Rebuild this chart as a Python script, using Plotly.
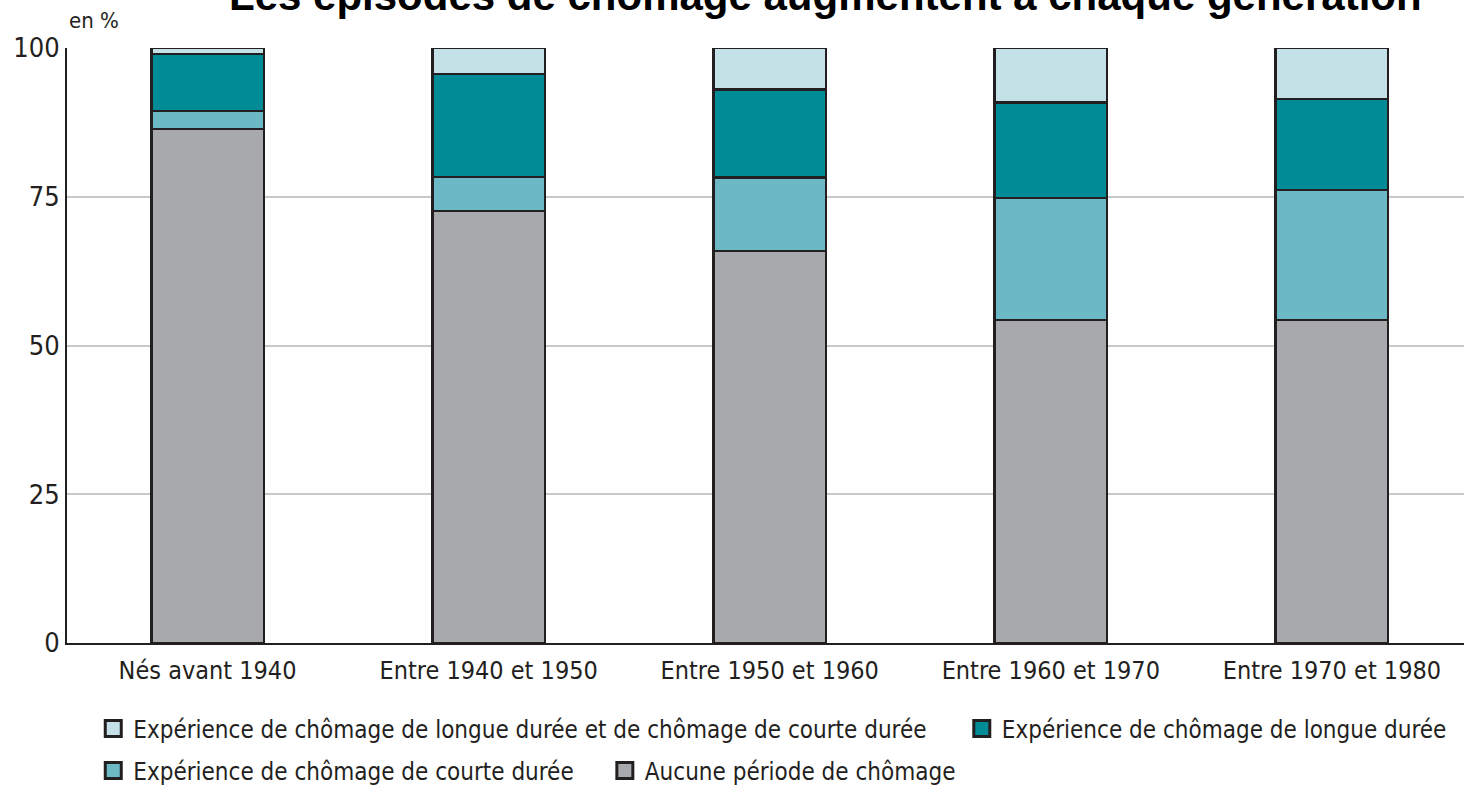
import plotly.graph_objects as go

categories = ["Nés avant 1940", "Entre 1940 et 1950", "Entre 1950 et 1960",
              "Entre 1960 et 1970", "Entre 1970 et 1980"]
aucune = [86.4, 72.6, 65.9, 54.3, 54.3]
courte = [3.0, 5.7, 12.3, 20.5, 21.8]
longue = [9.6, 17.3, 14.8, 16.0, 15.3]
les_deux = [1.0, 4.4, 7.0, 9.2, 8.6]

names = {
    "les_deux": "Expérience de chômage de longue durée et de chômage de courte durée",
    "longue": "Expérience de chômage de longue durée",
    "courte": "Expérience de chômage de courte durée",
    "aucune": "Aucune période de chômage",
}
colors = {
    "aucune": "#a8a9ac",
    "courte": "#6cb8c4",
    "longue": "#008b96",
    "les_deux": "#c4e1e8",
}
series = {"aucune": aucune, "courte": courte, "longue": longue, "les_deux": les_deux}

FONT = "Liberation Sans Narrow, Arial Narrow, DejaVu Sans Condensed, Roboto Condensed, Liberation Sans, sans-serif"
EDGE = "#231f20"

fig = go.Figure()
for key in ["aucune", "courte", "longue", "les_deux"]:
    fig.add_trace(go.Bar(
        x=categories, y=series[key], name=names[key],
        marker=dict(color=colors[key], line=dict(color=EDGE, width=2.5)),
        width=0.4, showlegend=False,
    ))

# legend entries, each in its own legend box placed like the reference
legend_ids = {"les_deux": "legend", "longue": "legend2", "courte": "legend3", "aucune": "legend4"}
for key in ["les_deux", "longue", "courte", "aucune"]:
    fig.add_trace(go.Scatter(
        x=[None], y=[None], mode="markers", name=names[key],
        marker=dict(symbol="square", size=22, color=colors[key],
                    line=dict(color=EDGE, width=3)),
        showlegend=True, legend=legend_ids[key],
    ))

def leg(x, y):
    return dict(orientation="h", x=x, xanchor="left", y=y, yanchor="middle",
                font=dict(family=FONT, size=24, color="#231f20"),
                itemsizing="trace", itemwidth=30, bgcolor="rgba(0,0,0,0)")

fig.update_layout(
    barmode="stack",
    width=1464, height=793,
    margin=dict(l=67, r=0, t=48, b=150, autoexpand=False),
    paper_bgcolor="white", plot_bgcolor="white",
    font=dict(family=FONT, size=24, color="#231f20"),
    showlegend=True,
    legend=leg(0.0188, -0.1445),
    legend2=leg(0.6405, -0.1445),
    legend3=leg(0.0188, -0.2151),
    legend4=leg(0.3850, -0.2151),
    xaxis=dict(range=[-0.5, 4.47], showline=True, linecolor="#231f20", linewidth=2,
               ticks="", showgrid=False, tickfont=dict(size=25), ticklabelstandoff=4),
    yaxis=dict(range=[0, 100], tickvals=[0, 25, 50, 75, 100], showline=True,
               linecolor="#231f20", linewidth=2, showgrid=True, gridcolor="#c8c8c8",
               gridwidth=2, ticks="", zeroline=False, tickfont=dict(size=27)),
    annotations=[
        dict(text="en %", xref="paper", yref="paper", x=0, y=1.022,
             xanchor="left", yanchor="bottom", showarrow=False,
             font=dict(family=FONT, size=22, color="#231f20")),
        dict(text="<b>Les épisodes de chômage augmentent à chaque génération</b>",
             xref="paper", yref="paper", x=0.543, y=1.088, xanchor="center",
             yanchor="middle", showarrow=False,
             font=dict(family="Liberation Sans, Arial, sans-serif", size=42, color="black")),
    ],
)

fig.write_html("out.html", config={"displayModeBar": False},
               post_script="document.body.style.margin='0px';")
